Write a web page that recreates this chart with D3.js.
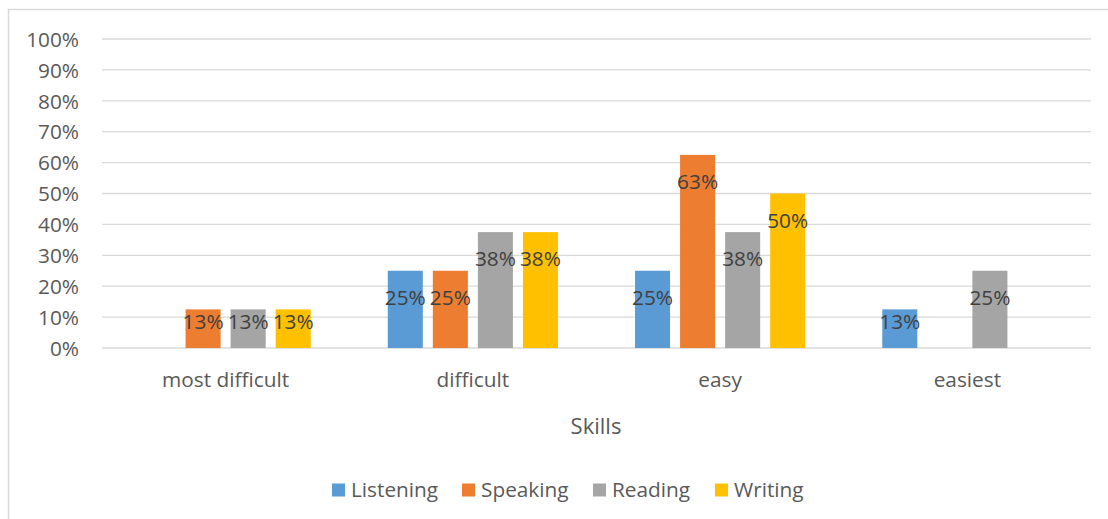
<!DOCTYPE html>
<html>
<head>
<meta charset="utf-8">
<script src="https://cdn.jsdelivr.net/npm/d3@7"></script>
<style>
  html, body { margin: 0; padding: 0; background: #fff; }
  svg { display: block; font-family: "Open Sans", "Liberation Sans", sans-serif; }
</style>
</head>
<body>
<svg id="chart" width="1108" height="519"></svg>
<script>
// Share of respondents rating each skill at each difficulty level
const categories = ["most difficult", "difficult", "easy", "easiest"];
const seriesNames = ["Listening", "Speaking", "Reading", "Writing"];
const listening = [0, 0.25, 0.25, 0.125];
const speaking  = [0.125, 0.25, 0.625, 0];
const reading   = [0.125, 0.375, 0.375, 0.25];
const writing   = [0.125, 0.375, 0.5, 0];
const yTicks = [0, 0.1, 0.2, 0.3, 0.4, 0.5, 0.6, 0.7, 0.8, 0.9, 1.0];
const colors = ["#5B9BD5", "#ED7D31", "#A5A5A5", "#FFC000"];
const xTitle = "Skills";

const seriesValues = [listening, speaking, reading, writing];
const fontSize = 20.8;

const svg = d3.select("#chart");

// chart frame
svg.append("rect")
  .attr("x", 8.5).attr("y", 9.5)
  .attr("width", 1120).attr("height", 540)
  .attr("fill", "#fff")
  .attr("stroke", "#D9D9D9").attr("stroke-width", 1.5);

const plot = { left: 102, right: 1091, top: 39, bottom: 348 };

const x = d3.scaleBand().domain(categories).range([plot.left, plot.right]).padding(0);
const xInner = d3.scaleBand().domain(seriesNames).range([0, x.bandwidth()])
  .paddingInner(0.222).paddingOuter(0.855);
const y = d3.scaleLinear().domain([0, 1]).range([plot.bottom, plot.top]);
const color = d3.scaleOrdinal().domain(seriesNames).range(colors);
const pct = d3.format(".0%");

// gridlines
svg.append("g")
  .selectAll("line")
  .data(yTicks)
  .join("line")
  .attr("x1", plot.left).attr("x2", plot.right)
  .attr("y1", d => y(d)).attr("y2", d => y(d))
  .attr("stroke", "#D9D9D9").attr("stroke-width", 1.3);

// y axis labels
const yAxis = d3.axisLeft(y).tickValues(yTicks).tickFormat(pct).tickSize(0).tickPadding(0);
const yg = svg.append("g").attr("transform", `translate(79,0)`).call(yAxis);
yg.select(".domain").remove();
yg.selectAll("text")
  .attr("fill", "#595959").attr("font-size", fontSize)
  .attr("font-family", "'Open Sans', sans-serif")
  .attr("dy", "0.35em");

// x axis labels
const xAxis = d3.axisBottom(x).tickSize(0).tickPadding(0);
const xg = svg.append("g").attr("transform", `translate(0,${plot.bottom})`).call(xAxis);
xg.select(".domain").remove();
xg.selectAll("text")
  .attr("fill", "#595959").attr("font-size", fontSize)
  .attr("font-family", "'Open Sans', sans-serif")
  .attr("y", 32).attr("dy", "0.35em");

// axis title
svg.append("text")
  .attr("x", (plot.left + plot.right) / 2 - 0.5).attr("y", 426)
  .attr("text-anchor", "middle").attr("dy", "0.35em")
  .attr("fill", "#595959").attr("font-size", 22)
  .text(xTitle);

// bars
const rows = [];
categories.forEach((c, i) => {
  seriesNames.forEach((s, j) => {
    rows.push({ category: c, series: s, value: seriesValues[j][i] });
  });
});
const present = rows.filter(d => d.value > 0);

const groups = svg.append("g");
groups.selectAll("rect")
  .data(present)
  .join("rect")
  .attr("x", d => x(d.category) + xInner(d.series))
  .attr("width", xInner.bandwidth())
  .attr("y", d => y(d.value))
  .attr("height", d => y(0) - y(d.value))
  .attr("fill", d => color(d.series));

// data labels, placed near the inside end of each bar
groups.selectAll("text")
  .data(present)
  .join("text")
  .attr("x", d => x(d.category) + xInner(d.series) + xInner.bandwidth() / 2)
  .attr("y", d => {
    const top = y(d.value), mid = (y(d.value) + y(0)) / 2;
    return Math.min(top + 27, mid - 7);
  })
  .attr("dy", "0.35em")
  .attr("text-anchor", "middle")
  .attr("fill", "#404040").attr("font-size", fontSize)
  .text(d => pct(d.value));

// legend
const legendX = [332, 462, 593, 715];
const legend = svg.append("g");
const items = legend.selectAll("g")
  .data(seriesNames)
  .join("g")
  .attr("transform", (d, i) => `translate(${legendX[i]},490)`);
items.append("rect")
  .attr("x", 0).attr("y", -6.5)
  .attr("width", 13).attr("height", 13)
  .attr("fill", d => color(d));
items.append("text")
  .attr("x", 19).attr("y", 0).attr("dy", "0.35em")
  .attr("fill", "#595959").attr("font-size", fontSize)
  .text(d => d);
</script>
</body>
</html>
